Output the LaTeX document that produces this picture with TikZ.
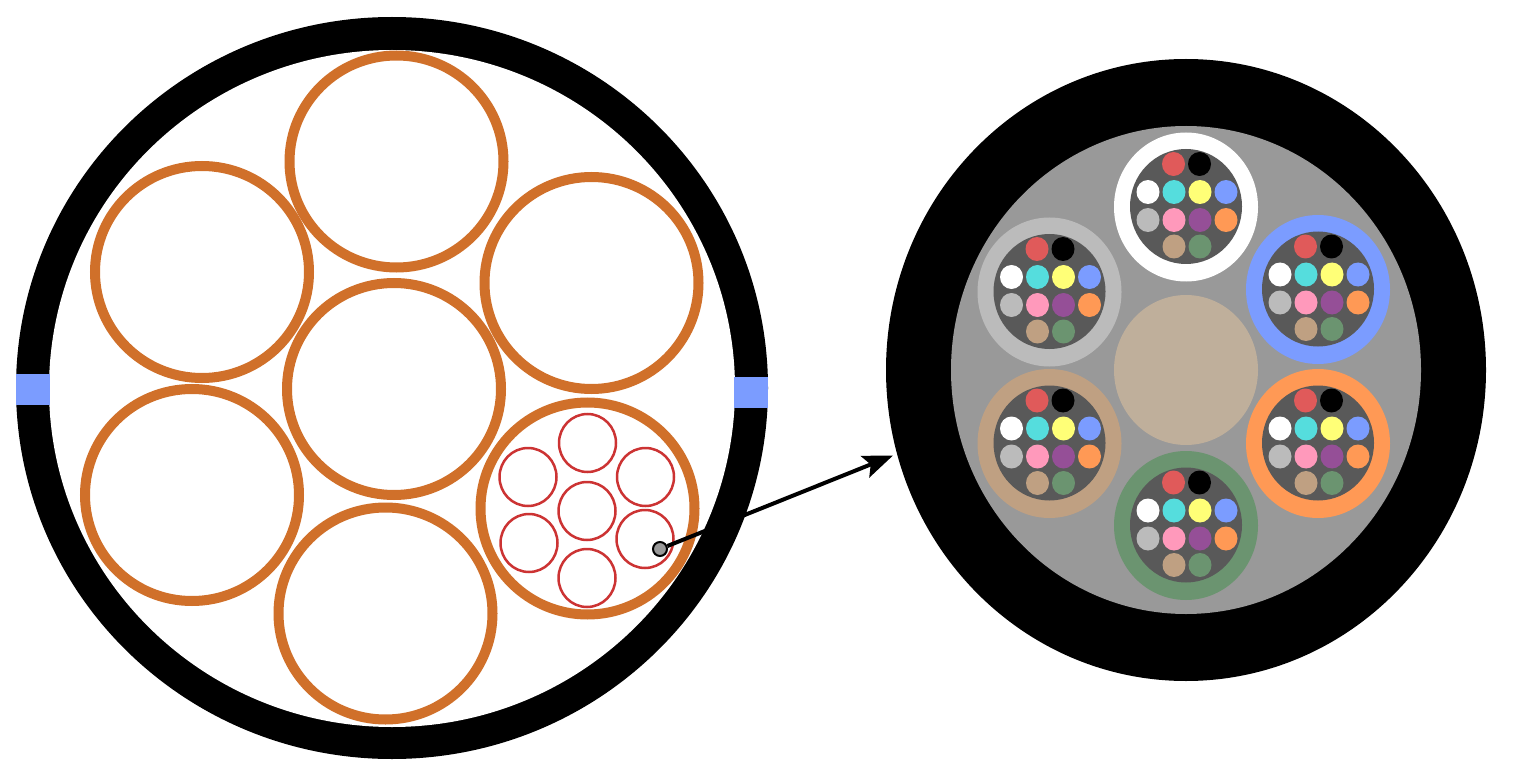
\documentclass[tikz,border=0pt]{standalone}
\usetikzlibrary{arrows.meta}
\definecolor{ringblue}{HTML}{7B9CFF}
\definecolor{sheath}{HTML}{D0702A}
\definecolor{tuber}{HTML}{CC3333}
\definecolor{fred}{HTML}{E05A5A}
\definecolor{fcyan}{HTML}{55DDDD}
\definecolor{fyellow}{HTML}{FFFF77}
\definecolor{fgray}{HTML}{BBBBBB}
\definecolor{fpink}{HTML}{FF99BB}
\definecolor{fpurple}{HTML}{954F97}
\definecolor{forange}{HTML}{FF9955}
\definecolor{ftan}{HTML}{BFA082}
\definecolor{fgreen}{HTML}{6B9470}
\definecolor{core}{HTML}{595959}
\definecolor{jacket}{HTML}{999999}
\definecolor{centre}{HTML}{BFAF9B}
\tikzset{
  sheathring/.style={draw=sheath,line width=10pt},
  tubering/.style={draw=tuber,line width=2.5pt},
  fibredot/.style={x radius=11.5,y radius=12}
}
\newcommand{\cableunit}[3]{%
  \begin{scope}[shift={(#1,#2)}]
    \fill[#3] (0,0) circle[x radius=72,y radius=74.5];
    \fill[core] (0,-0.5) circle[x radius=56,y radius=57.5];
    \foreach \px/\py/\pc in {-12.5/-43/fred,13.5/-43/black,
      -38/-15/white,-12/-15/fcyan,14/-15/fyellow,40/-15/ringblue,
      -38/13/fgray,-12/13/fpink,14/13/fpurple,40/13/forange,
      -12/39.5/ftan,14/39.5/fgreen}
      \fill[\pc] (\px,\py) circle[fibredot];
  \end{scope}}
\begin{document}
\begin{tikzpicture}[x=1pt,y=-1pt]
\useasboundingbox (0,0) rectangle (1521,770);
% left cable
\fill[black] (392,388) circle[x radius=376,y radius=371];
\fill[white] (392,388.5) circle[x radius=343,y radius=338.5];
\fill[ringblue] (16,374) rectangle (49.5,405);
\fill[ringblue] (734,377) rectangle (768,408);
\foreach \cx/\cy in {396.5/161.5,202/272,591.5/283,394/389,192/495,385.5/613.5,587.5/508.5}
  \draw[sheathring] (\cx,\cy) circle[x radius=107,y radius=106];
\foreach \cx/\cy in {587.5/443,528/477,645.5/477,587/511,529/543,645/539,587/578}
  \draw[tubering] (\cx,\cy) circle[x radius=28.5,y radius=29];
% right cable
\fill[black] (1186,370) circle[x radius=300,y radius=311];
\fill[jacket] (1186,370) circle[x radius=235,y radius=244];
\fill[centre] (1186,370) circle[x radius=72,y radius=75];
\cableunit{1186}{207}{white}
\cableunit{1318}{289.5}{ringblue}
\cableunit{1318}{443.5}{forange}
\cableunit{1186}{525.5}{fgreen}
\cableunit{1049.5}{443.5}{ftan}
\cableunit{1049.5}{292}{fgray}
% pointer
\coordinate (zoomtarget) at (893,455.5);
\node[circle,draw=black,line width=2pt,fill=jacket,minimum size=14pt,inner sep=0pt] (probe) at (660,549) {};
\draw[black,line width=4pt,-{Stealth[length=30pt,width=23pt,inset=6pt]}] (probe) -- (zoomtarget);
\end{tikzpicture}
\end{document}
